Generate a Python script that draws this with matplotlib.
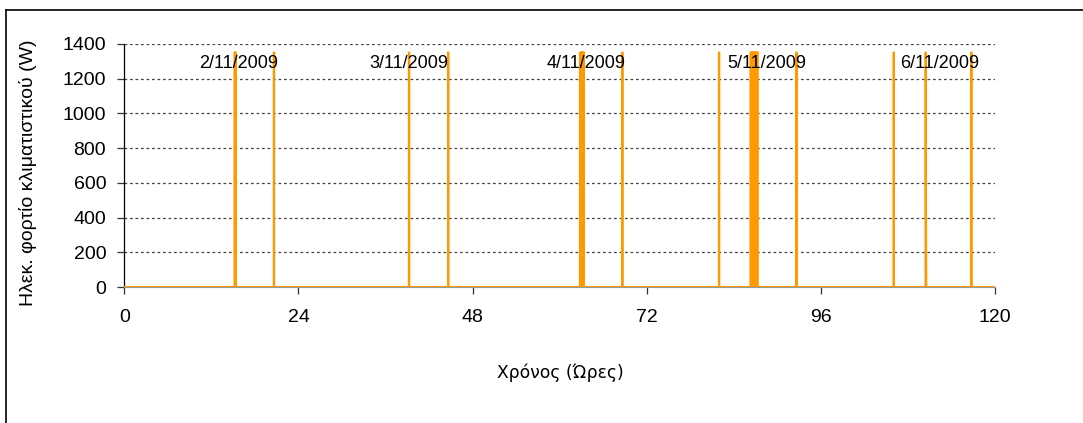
import matplotlib
matplotlib.use("Agg")
import matplotlib.pyplot as plt
from matplotlib.lines import Line2D

# Air-conditioner switching events (hours from start of 2/11/2009)
pulse_start = [15.20, 15.30, 20.60, 39.22, 44.62, 62.80, 62.95, 63.10, 63.25,
               68.62, 81.95, 86.30, 86.45, 86.60, 86.75, 86.90, 87.05, 87.20,
               92.62, 106.02, 110.42, 116.72]
pulse_end = [15.25, 15.35, 20.65, 39.27, 44.67, 62.88, 63.03, 63.18, 63.35,
             68.67, 82.00, 86.38, 86.53, 86.68, 86.83, 86.98, 87.13, 87.30,
             92.67, 106.07, 110.47, 116.77]
pulse_level = [1350] * len(pulse_start)
# load measured just after switch-off (non-zero where the drop was gradual)
pulse_tail = [0] * len(pulse_start)
pulse_tail[20] = 600

day_labels = ["2/11/2009", "3/11/2009", "4/11/2009", "5/11/2009", "6/11/2009"]
day_label_hours = [15.8, 39.2, 63.6, 88.6, 112.4]
day_label_level = 1285

x_ticks = [0, 24, 48, 72, 96, 120]
y_ticks = [0, 200, 400, 600, 800, 1000, 1200, 1400]

# Build the step-shaped load profile from the switching events
t = [0.0]
p = [0.0]
for s, e, lv, tail in zip(pulse_start, pulse_end, pulse_level, pulse_tail):
    t += [s, s, e]
    p += [0.0, lv, lv]
    if tail:
        t += [e, e + 0.06]
        p += [tail, 0.0]
    else:
        t += [e]
        p += [0.0]
t.append(120.0)
p.append(0.0)

plt.rcParams["font.family"] = ["Liberation Sans", "DejaVu Sans"]

fig = plt.figure(figsize=(10.83, 4.23), dpi=100)
ax = fig.add_axes([124.3 / 1083, 1 - 287 / 423, (995 - 124.3) / 1083, (287 - 44) / 423])

ax.plot(t, p, color="#FF9900", lw=1.5, solid_joinstyle="miter", zorder=3)

ax.set_xlim(0, 120)
ax.set_ylim(0, 1400)
ax.set_xticks(x_ticks)
ax.set_yticks(y_ticks)
ax.tick_params(axis="both", labelsize=14, length=5, width=0.9, direction="out", color="#333333")
ax.tick_params(axis="x", pad=11)
ax.tick_params(axis="y", pad=8)

for y in y_ticks[1:]:
    ax.axhline(y, color="#444444", lw=0.9, ls=(0, (2.2, 2.2)), zorder=1)

for s in ("top", "right"):
    ax.spines[s].set_visible(False)
ax.spines["left"].set_color("black")
ax.spines["left"].set_linewidth(0.9)
ax.spines["bottom"].set_color("#999999")

for lab, h in zip(day_labels, day_label_hours):
    ax.text(h, day_label_level, lab, ha="center", va="center", fontsize=13, zorder=4)

fig.text(28 / 1083, 1 - 173 / 423, "Ηλεκ. φορτίο κλιματιστικού (W)", rotation=90,
         ha="center", va="center", fontsize=14)
fig.text(560 / 1083, 1 - 373 / 423, "Χρόνος (Ώρες)", ha="center", va="center",
         fontsize=12.3, family=["DejaVu Sans"])

# Outer chart frame (left and top edges)
x0 = 6 / 1083
y0 = 1 - 10 / 423
fig.add_artist(Line2D([x0, x0], [-0.01, y0], transform=fig.transFigure, color="black", lw=1.2))
fig.add_artist(Line2D([x0, 1.01], [y0, y0], transform=fig.transFigure, color="black", lw=1.2))

fig.savefig("out.png", dpi=100)
